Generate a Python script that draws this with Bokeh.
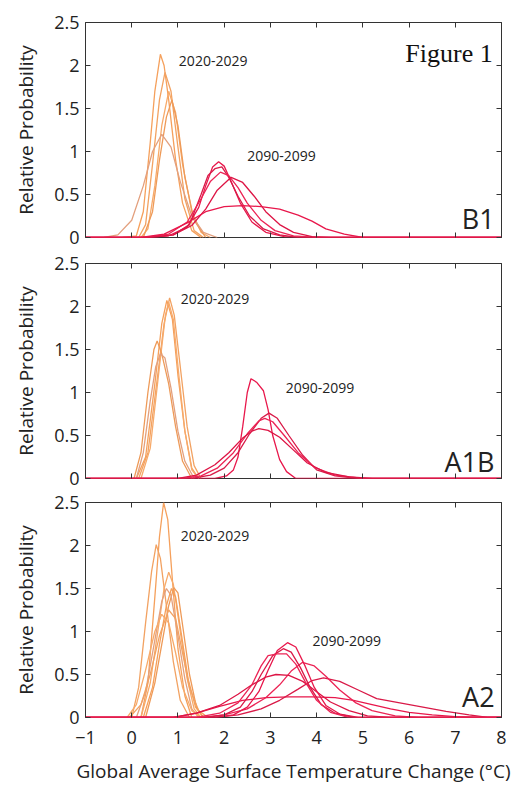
from bokeh.plotting import figure
from bokeh.layouts import column
from bokeh.models import Label, LinearAxis, FixedTicker, Range1d
from bokeh.embed import file_html
from bokeh.resources import INLINE

# ---------------- data ----------------
X_TICKS = [-1, 0, 1, 2, 3, 4, 5, 6, 7, 8]
X_TICK_LABELS = ["\u22121", "0", "1", "2", "3", "4", "5", "6", "7", "8"]
Y_TICKS = [0, 0.5, 1, 1.5, 2, 2.5]
Y_TICK_LABELS = ["0", "0.5", "1", "1.5", "2", "2.5"]

SCENARIOS = ["B1", "A1B", "A2"]
PERIODS = ["2020-2029", "2090-2099"]
X_TITLE = "Global Average Surface Temperature Change (\u00b0C)"
Y_TITLE = "Relative Probability"
FIG_TITLE = "Figure 1"

# label anchor positions (data units) per scenario
LABEL_2020_X = [1.02, 1.06, 1.06]
LABEL_2020_Y = [2.05, 2.09, 2.11]
LABEL_2090_X = [2.50, 3.33, 3.91]
LABEL_2090_Y = [0.945, 1.05, 0.887]
SCEN_LABEL_X = [7.85, 7.85, 7.85]
SCEN_LABEL_Y = [0.22, 0.2, 0.25]
FIG_TITLE_X = 7.81
FIG_TITLE_Y = 2.14

# --- B1, 2020-2029 ---
B1_2020_X = [
    [-0.2, 0.1, 0.25, 0.4, 0.5, 0.62, 0.7, 0.8, 0.95, 1.1, 1.3, 1.5],
    [0.15, 0.3, 0.45, 0.6, 0.72, 0.85, 1.0, 1.15, 1.35, 1.55],
    [0.2, 0.35, 0.5, 0.65, 0.8, 0.95, 1.1, 1.3, 1.5, 1.7],
    [0.25, 0.45, 0.6, 0.75, 0.87, 1.0, 1.15, 1.35, 1.6],
    [-0.6, -0.3, 0.0, 0.25, 0.45, 0.65, 0.85, 1.05, 1.3, 1.55, 1.85],
]
B1_2020_Y = [
    [0, 0.02, 0.3, 1.1, 1.7, 2.13, 2.0, 1.6, 0.9, 0.4, 0.08, 0],
    [0, 0.15, 0.85, 1.6, 1.92, 1.7, 1.05, 0.45, 0.08, 0],
    [0, 0.1, 0.6, 1.3, 1.7, 1.45, 0.85, 0.3, 0.06, 0],
    [0, 0.3, 0.9, 1.4, 1.6, 1.3, 0.7, 0.2, 0],
    [0, 0.03, 0.2, 0.6, 1.0, 1.2, 1.05, 0.65, 0.25, 0.06, 0],
]
# --- B1, 2090-2099 ---
B1_2090_X = [
    [-1, 0.3, 0.8, 1.2, 1.45, 1.6, 1.75, 1.88, 2.0, 2.15, 2.35, 2.6, 2.9, 3.3, 3.8, 8],
    [-1, 0.4, 0.9, 1.25, 1.5, 1.65, 1.8, 1.95, 2.1, 2.3, 2.55, 2.85, 3.2, 3.6, 8],
    [-1, 0.3, 0.8, 1.2, 1.5, 1.7, 1.92, 2.1, 2.3, 2.5, 2.8, 3.1, 3.5, 4.0, 8],
    [-1, 0.4, 0.9, 1.3, 1.6, 1.85, 2.15, 2.4, 2.65, 2.9, 3.2, 3.5, 3.9, 4.3, 8],
    [-1, 0.2, 0.7, 1.2, 1.6, 2.0, 2.4, 2.8, 3.2, 3.6, 3.9, 4.2, 4.6, 5.0, 8],
]
B1_2090_Y = [
    [0, 0, 0.02, 0.12, 0.35, 0.6, 0.82, 0.88, 0.83, 0.65, 0.4, 0.18, 0.06, 0.01, 0, 0],
    [0, 0, 0.03, 0.15, 0.5, 0.72, 0.8, 0.82, 0.7, 0.48, 0.25, 0.1, 0.03, 0, 0],
    [0, 0, 0.04, 0.18, 0.45, 0.65, 0.76, 0.72, 0.58, 0.4, 0.2, 0.08, 0.02, 0, 0],
    [0, 0, 0.03, 0.14, 0.33, 0.55, 0.70, 0.64, 0.48, 0.3, 0.15, 0.06, 0.01, 0, 0],
    [0, 0, 0.04, 0.17, 0.3, 0.36, 0.37, 0.36, 0.33, 0.26, 0.19, 0.1, 0.04, 0, 0],
]
# --- A1B, 2020-2029 ---
A1B_2020_X = [
    [0.1, 0.3, 0.5, 0.65, 0.76, 0.88, 1.0, 1.15, 1.3, 1.45],
    [0.15, 0.35, 0.55, 0.7, 0.82, 0.92, 1.05, 1.2, 1.35, 1.5],
    [0.2, 0.4, 0.6, 0.73, 0.8, 0.9, 1.02, 1.15, 1.3, 1.45],
    [0.05, 0.2, 0.35, 0.48, 0.55, 0.65, 0.8, 0.95, 1.1, 1.3],
    [0.1, 0.25, 0.4, 0.52, 0.62, 0.72, 0.85, 1.0, 1.15, 1.35],
]
A1B_2020_Y = [
    [0, 0.25, 1.1, 1.8, 2.07, 1.85, 1.2, 0.55, 0.12, 0],
    [0, 0.3, 1.15, 1.8, 2.1, 1.9, 1.3, 0.6, 0.15, 0],
    [0, 0.35, 1.3, 1.9, 2.05, 1.85, 1.2, 0.55, 0.1, 0],
    [0, 0.3, 1.0, 1.5, 1.6, 1.45, 1.1, 0.6, 0.2, 0],
    [0, 0.3, 0.9, 1.3, 1.45, 1.4, 1.05, 0.55, 0.2, 0],
]
# --- A1B, 2090-2099 ---
A1B_2090_X = [
    [-1, 1.8, 2.05, 2.2, 2.3, 2.4, 2.5, 2.58, 2.7, 2.85, 2.95, 3.05, 3.2, 3.35, 3.55, 8],
    [-1, 1.3, 1.7, 2.0, 2.3, 2.55, 2.8, 2.97, 3.15, 3.4, 3.7, 4.0, 4.4, 4.9, 8],
    [-1, 1.1, 1.5, 1.85, 2.2, 2.5, 2.75, 2.88, 3.05, 3.3, 3.6, 3.95, 4.4, 5.0, 8],
    [-1, 1.0, 1.4, 1.8, 2.1, 2.4, 2.6, 2.75, 2.95, 3.2, 3.5, 3.8, 4.2, 4.7, 5.2, 8],
]
A1B_2090_Y = [
    [0, 0, 0.03, 0.1, 0.25, 0.6, 1.0, 1.16, 1.12, 1.02, 0.8, 0.5, 0.22, 0.08, 0, 0],
    [0, 0, 0.04, 0.12, 0.3, 0.52, 0.7, 0.76, 0.7, 0.5, 0.27, 0.1, 0.03, 0, 0],
    [0, 0, 0.03, 0.12, 0.3, 0.52, 0.67, 0.70, 0.66, 0.5, 0.3, 0.13, 0.04, 0, 0],
    [0, 0, 0.04, 0.16, 0.3, 0.47, 0.55, 0.58, 0.56, 0.48, 0.33, 0.18, 0.07, 0.02, 0, 0],
]
# --- A2, 2020-2029 ---
A2_2020_X = [
    [0.2, 0.35, 0.5, 0.6, 0.69, 0.78, 0.88, 1.0, 1.15, 1.3],
    [0.0, 0.15, 0.3, 0.43, 0.53, 0.62, 0.75, 0.9, 1.05, 1.25],
    [0.2, 0.4, 0.55, 0.7, 0.8, 0.9, 1.05, 1.2, 1.35, 1.5],
    [0.3, 0.5, 0.65, 0.8, 0.91, 1.0, 1.12, 1.25, 1.4, 1.55],
    [0.1, 0.3, 0.5, 0.65, 0.75, 0.85, 1.0, 1.15, 1.3, 1.45],
    [0.25, 0.45, 0.6, 0.75, 0.86, 0.95, 1.08, 1.22, 1.38, 1.55],
    [-0.05, 0.2, 0.4, 0.6, 0.8, 0.95, 1.1, 1.25, 1.45, 1.65],
    [-0.1, 0.1, 0.3, 0.5, 0.65, 0.8, 0.95, 1.1, 1.3, 1.5],
]
A2_2020_Y = [
    [0, 0.4, 1.4, 2.1, 2.5, 2.3, 1.6, 0.8, 0.25, 0],
    [0, 0.35, 1.1, 1.7, 2.01, 1.85, 1.3, 0.65, 0.2, 0],
    [0, 0.4, 0.95, 1.5, 1.69, 1.55, 1.0, 0.45, 0.1, 0],
    [0, 0.4, 0.85, 1.3, 1.51, 1.45, 1.0, 0.5, 0.12, 0],
    [0, 0.3, 0.9, 1.35, 1.5, 1.42, 0.95, 0.45, 0.1, 0],
    [0, 0.35, 0.85, 1.3, 1.5, 1.4, 0.95, 0.45, 0.12, 0],
    [0, 0.15, 0.5, 0.95, 1.25, 1.15, 0.75, 0.35, 0.08, 0],
    [0, 0.15, 0.55, 1.0, 1.2, 1.1, 0.75, 0.35, 0.08, 0],
]
# --- A2, 2090-2099 ---
A2_2090_X = [
    [-1, 0.9, 1.4, 1.9, 2.4, 2.9, 3.4, 3.9, 4.4, 4.8, 5.2, 5.6, 6.0, 6.5, 7.0, 7.5, 8],
    [-1, 1.8, 2.3, 2.8, 3.2, 3.6, 3.9, 4.15, 4.5, 4.9, 5.3, 5.8, 6.3, 6.8, 7.3, 7.7, 8],
    [-1, 1.5, 2.0, 2.5, 2.9, 3.2, 3.45, 3.69, 3.95, 4.2, 4.5, 4.85, 5.2, 5.7, 6.2, 8],
    [-1, 0.9, 1.4, 1.9, 2.3, 2.6, 2.9, 3.12, 3.4, 3.7, 4.0, 4.3, 4.7, 5.1, 5.6, 8],
    [-1, 1.8, 2.2, 2.5, 2.75, 2.95, 3.15, 3.37, 3.55, 3.75, 3.95, 4.2, 4.5, 4.9, 8],
    [-1, 1.6, 2.0, 2.35, 2.6, 2.8, 3.05, 3.28, 3.45, 3.65, 3.85, 4.1, 4.4, 4.8, 8],
    [-1, 1.4, 1.9, 2.3, 2.6, 2.8, 2.95, 3.15, 3.35, 3.55, 3.75, 4.0, 4.3, 4.7, 8],
]
A2_2090_Y = [
    [0, 0, 0.05, 0.13, 0.2, 0.23, 0.24, 0.24, 0.23, 0.2, 0.15, 0.1, 0.06, 0.03, 0.01, 0, 0],
    [0, 0, 0.03, 0.1, 0.2, 0.33, 0.43, 0.46, 0.42, 0.32, 0.22, 0.17, 0.12, 0.07, 0.03, 0, 0],
    [0, 0, 0.03, 0.1, 0.23, 0.38, 0.54, 0.64, 0.6, 0.48, 0.32, 0.17, 0.08, 0.02, 0, 0],
    [0, 0, 0.05, 0.14, 0.27, 0.38, 0.47, 0.5, 0.49, 0.42, 0.3, 0.18, 0.08, 0.02, 0, 0],
    [0, 0, 0.03, 0.12, 0.3, 0.55, 0.78, 0.87, 0.82, 0.6, 0.35, 0.14, 0.04, 0, 0],
    [0, 0, 0.03, 0.12, 0.3, 0.5, 0.72, 0.80, 0.76, 0.58, 0.36, 0.15, 0.05, 0, 0],
    [0, 0, 0.05, 0.17, 0.38, 0.6, 0.72, 0.74, 0.74, 0.62, 0.42, 0.2, 0.06, 0, 0],
]

EARLY_X = [B1_2020_X, A1B_2020_X, A2_2020_X]
EARLY_Y = [B1_2020_Y, A1B_2020_Y, A2_2020_Y]
LATE_X = [B1_2090_X, A1B_2090_X, A2_2090_X]
LATE_Y = [B1_2090_Y, A1B_2090_Y, A2_2090_Y]

# ---------------- styles ----------------
ORANGES = ["#F5A05C", "#F2A262", "#F7AA6A", "#EE9A58", "#E3A07E"]
REDS = ["#E8174B", "#D91A48", "#EC2455", "#DD1545"]
FONT = "Open Sans"
TEXT_COLOR = "#222222"
FRAME_COLOR = "#333333"

BORDERS = [(22, 13), (13, 12), (12, 66)]  # (top, bottom)


def style_axis(ax, labels_visible, ticks, labels):
    ax.ticker = FixedTicker(ticks=ticks)
    ax.major_tick_in = 5
    ax.major_tick_out = 0
    ax.major_tick_line_color = FRAME_COLOR
    ax.minor_tick_line_color = None
    ax.axis_line_color = None
    if labels_visible:
        ax.major_label_overrides = {t: s for t, s in zip(ticks, labels)}
        ax.major_label_text_font = FONT
        ax.major_label_text_font_size = "18px"
        ax.major_label_text_color = TEXT_COLOR
    else:
        ax.major_label_overrides = {t: "" for t in ticks}
        ax.major_label_text_font_size = "1px"
        ax.major_label_standoff = 0


panels = []
for i, name in enumerate(SCENARIOS):
    top_b, bot_b = BORDERS[i]
    p = figure(frame_width=416, frame_height=215,
               x_range=Range1d(-1, 8), y_range=Range1d(0, 2.5),
               output_backend="svg", toolbar_location=None,
               min_border_left=85, min_border_right=14,
               min_border_top=top_b, min_border_bottom=bot_b,
               background_fill_color="white", border_fill_color="white")
    p.grid.visible = False
    p.outline_line_color = FRAME_COLOR
    p.outline_line_width = 1

    ex, ey = EARLY_X[i], EARLY_Y[i]
    p.multi_line(xs=ex, ys=ey,
                 line_color=[ORANGES[k % len(ORANGES)] for k in range(len(ex))],
                 line_width=1.3)
    lx, ly = LATE_X[i], LATE_Y[i]
    p.multi_line(xs=lx, ys=ly,
                 line_color=[REDS[k % len(REDS)] for k in range(len(lx))],
                 line_width=1.3)

    # axes
    xa = p.xaxis[0]
    ya = p.yaxis[0]
    style_axis(xa, i == 2, X_TICKS, X_TICK_LABELS)
    style_axis(ya, True, Y_TICKS, Y_TICK_LABELS)
    ya.major_label_standoff = 6
    ya.axis_label = Y_TITLE
    ya.axis_label_text_font = FONT
    ya.axis_label_text_font_size = "19px"
    ya.axis_label_text_font_style = "normal"
    ya.axis_label_text_color = TEXT_COLOR
    ya.axis_label_standoff = 12
    if i == 2:
        xa.major_label_standoff = 13
        xa.axis_label = X_TITLE
        xa.axis_label_text_font = FONT
        xa.axis_label_text_font_size = "19px"
        xa.axis_label_text_font_style = "normal"
        xa.axis_label_text_color = TEXT_COLOR
        xa.axis_label_standoff = 11

    top_ax = LinearAxis()
    style_axis(top_ax, False, X_TICKS, X_TICK_LABELS)
    p.add_layout(top_ax, "above")
    right_ax = LinearAxis()
    style_axis(right_ax, False, Y_TICKS, Y_TICK_LABELS)
    p.add_layout(right_ax, "right")

    # annotations
    p.add_layout(Label(x=LABEL_2020_X[i], y=LABEL_2020_Y[i], text=PERIODS[0],
                       text_font=FONT, text_font_size="14px", text_color=TEXT_COLOR,
                       text_align="left", text_baseline="middle"))
    p.add_layout(Label(x=LABEL_2090_X[i], y=LABEL_2090_Y[i], text=PERIODS[1],
                       text_font=FONT, text_font_size="14px", text_color=TEXT_COLOR,
                       text_align="left", text_baseline="middle"))
    p.add_layout(Label(x=SCEN_LABEL_X[i], y=SCEN_LABEL_Y[i], text=name,
                       text_font=FONT, text_font_size="27px", text_color=TEXT_COLOR,
                       text_align="right", text_baseline="middle"))
    if i == 0:
        p.add_layout(Label(x=FIG_TITLE_X, y=FIG_TITLE_Y, text=FIG_TITLE,
                           text_font="Liberation Serif", text_font_size="26px",
                           text_color="#111111",
                           text_align="right", text_baseline="middle"))
    panels.append(p)

layout = column(*panels, spacing=0)
open("out.html", "w").write(file_html(layout, INLINE))
